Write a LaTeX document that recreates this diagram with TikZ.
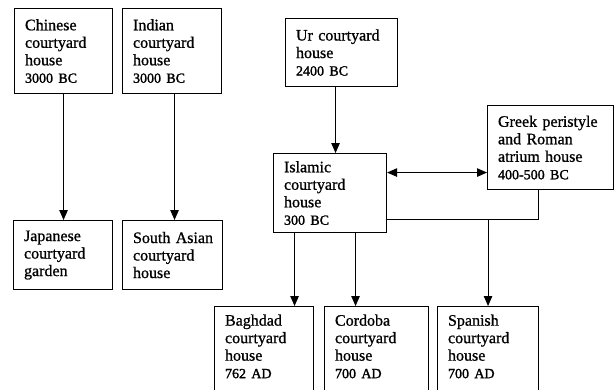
\documentclass[tikz,border=0pt]{standalone}
\usepackage{fontspec}
\setmainfont{Liberation Serif}[FakeBold=0.9]
\newfontfamily\datefam{Liberation Serif}[FakeBold=1.6]
\usetikzlibrary{arrows.meta,calc}
\newcommand{\mydate}[1]{{\datefam\fontsize{14}{17.5}\selectfont #1}}
\begin{document}
\begin{tikzpicture}[x=1pt,y=-1pt,
  box/.style={draw, line width=1.1pt, anchor=north west, inner xsep=10.5pt, inner ysep=0pt, align=left, font=\fontsize{16}{17.5}\selectfont},
  cutbox/.style={box, inner ysep=8pt, text depth=100pt},
  conn/.style={line width=1pt},
  arr/.style={conn, -{Triangle[length=10pt,width=8.5pt]}},
  dbl/.style={conn, {Triangle[length=10pt,width=8.5pt]}-{Triangle[length=10pt,width=8.5pt]}}
]
\useasboundingbox (0,0) rectangle (614,389);
\clip (0,0) rectangle (614,389);
\fill[white] (0,0) rectangle (614,389);

\node[box, text width=77pt, minimum height=85pt] (chinese) at (14,8) {Chinese\\courtyard\\house\\\mydate{3000~BC}};
\node[box, text width=78pt, minimum height=85pt] (indian) at (122,8) {Indian\\courtyard\\house\\\mydate{3000~BC}};
\node[box, text width=78pt, minimum height=69pt] (japanese) at (13,220) {Japanese\\courtyard\\garden};
\node[box, text width=79pt, minimum height=69pt] (southasian) at (122,220) {South~Asian\\courtyard\\house};
\node[box, text width=91pt, minimum height=68pt] (ur) at (285,18) {Ur~courtyard\\house\\\mydate{2400~BC}};
\node[box, text width=92pt, minimum height=79pt] (islamic) at (273,153) {Islamic\\courtyard\\house\\\mydate{300~BC}};
\node[box, text width=105pt, minimum height=84pt] (greek) at (487,105) {Greek~peristyle\\and~Roman\\atrium~house\\\mydate{400-500~BC}};
\node[cutbox, text width=78pt] (baghdad) at (214,306) {Baghdad\\courtyard\\house\\\mydate{762~AD}};
\node[cutbox, text width=83pt] (cordoba) at (324,306) {Cordoba\\courtyard\\house\\\mydate{700~AD}};
\node[cutbox, text width=80pt] (spanish) at (437,306) {Spanish\\courtyard\\house\\\mydate{700~AD}};

\draw[arr] (chinese.south) -- (chinese.south |- japanese.north);
\draw[arr] ([xshift=2.5pt]indian.south) -- ([xshift=2.5pt]indian.south |- southasian.north);
\draw[arr] ([xshift=-6pt]ur.south) -- ([xshift=-6pt]ur.south |- islamic.north);
\draw[dbl] ([yshift=20.5pt]islamic.east) -- ([yshift=20.5pt]islamic.east -| greek.west);
\coordinate (J) at ([yshift=-26.5pt]islamic.east);
\draw[conn] ([xshift=-12pt]greek.south) |- (J);
\draw[arr] (spanish.north |- J) -- (spanish.north);
\draw[arr] ([xshift=-35.5pt]islamic.south) -- ([xshift=-35.5pt]islamic.south |- baghdad.north);
\draw[arr] ([xshift=25.5pt]islamic.south) -- ([xshift=25.5pt]islamic.south |- cordoba.north);
\end{tikzpicture}
\end{document}
